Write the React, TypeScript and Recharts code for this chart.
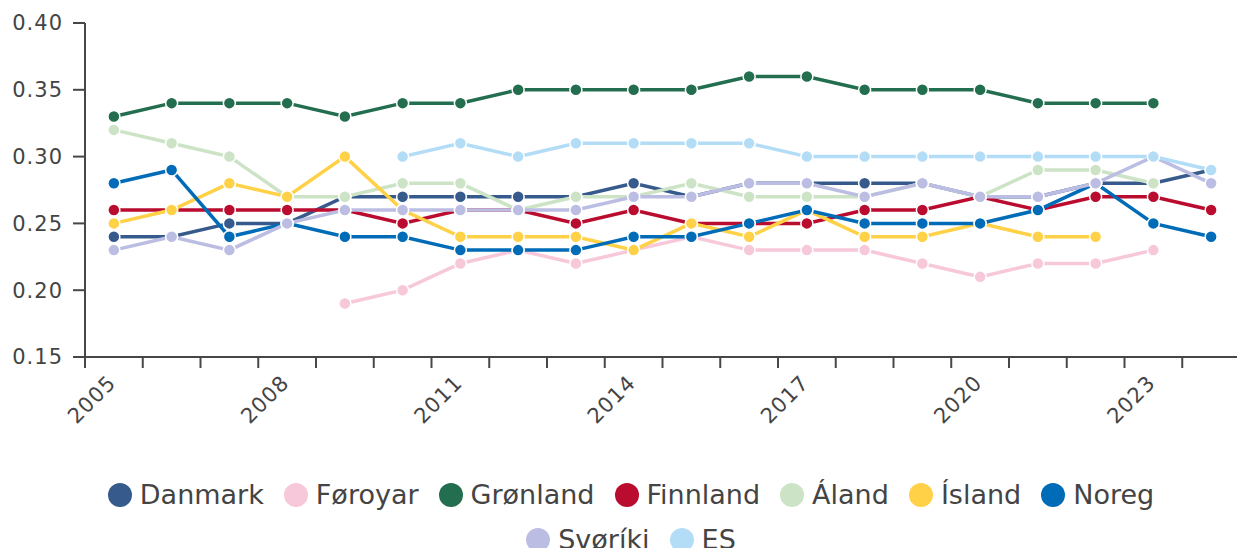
import React from "react";
import { LineChart, Line, XAxis, YAxis, Legend } from "recharts";

// Gini-style index per land, 2005-2024
const years = [
  "2005", "2006", "2007", "2008", "2009", "2010", "2011", "2012", "2013", "2014",
  "2015", "2016", "2017", "2018", "2019", "2020", "2021", "2022", "2023", "2024",
];

const danmark = [0.24, 0.24, 0.25, 0.25, 0.27, 0.27, 0.27, 0.27, 0.27, 0.28, 0.27, 0.28, 0.28, 0.28, 0.28, 0.27, 0.27, 0.28, 0.28, 0.29];
const foroyar = [null, null, null, null, 0.19, 0.2, 0.22, 0.23, 0.22, 0.23, 0.24, 0.23, 0.23, 0.23, 0.22, 0.21, 0.22, 0.22, 0.23, null];
const gronland = [0.33, 0.34, 0.34, 0.34, 0.33, 0.34, 0.34, 0.35, 0.35, 0.35, 0.35, 0.36, 0.36, 0.35, 0.35, 0.35, 0.34, 0.34, 0.34, null];
const finnland = [0.26, 0.26, 0.26, 0.26, 0.26, 0.25, 0.26, 0.26, 0.25, 0.26, 0.25, 0.25, 0.25, 0.26, 0.26, 0.27, 0.26, 0.27, 0.27, 0.26];
const aland = [0.32, 0.31, 0.3, 0.27, 0.27, 0.28, 0.28, 0.26, 0.27, 0.27, 0.28, 0.27, 0.27, 0.27, 0.28, 0.27, 0.29, 0.29, 0.28, null];
const island = [0.25, 0.26, 0.28, 0.27, 0.3, 0.26, 0.24, 0.24, 0.24, 0.23, 0.25, 0.24, 0.26, 0.24, 0.24, 0.25, 0.24, 0.24, null, null];
const noreg = [0.28, 0.29, 0.24, 0.25, 0.24, 0.24, 0.23, 0.23, 0.23, 0.24, 0.24, 0.25, 0.26, 0.25, 0.25, 0.25, 0.26, 0.28, 0.25, 0.24];
const sveriki = [0.23, 0.24, 0.23, 0.25, 0.26, 0.26, 0.26, 0.26, 0.26, 0.27, 0.27, 0.28, 0.28, 0.27, 0.28, 0.27, 0.27, 0.28, 0.3, 0.28];
const es = [null, null, null, null, null, 0.3, 0.31, 0.3, 0.31, 0.31, 0.31, 0.31, 0.3, 0.3, 0.3, 0.3, 0.3, 0.3, 0.3, 0.29];

const yTicks = [0.15, 0.2, 0.25, 0.3, 0.35, 0.4];

const series = [
  { key: "danmark", name: "Danmark", values: danmark, color: "#375a8c" },
  { key: "foroyar", name: "Føroyar", values: foroyar, color: "#f7c8da" },
  { key: "gronland", name: "Grønland", values: gronland, color: "#236e4f" },
  { key: "finnland", name: "Finnland", values: finnland, color: "#ba0c2f" },
  { key: "aland", name: "Áland", values: aland, color: "#cce3c6" },
  { key: "island", name: "Ísland", values: island, color: "#ffd147" },
  { key: "noreg", name: "Noreg", values: noreg, color: "#006bb6" },
  { key: "sveriki", name: "Svøríki", values: sveriki, color: "#bcbde3" },
  { key: "es", name: "ES", values: es, color: "#b3dcf6" },
];

const data = years.map((year, i) => {
  const row: Record<string, any> = { year };
  series.forEach((s) => {
    row[s.key] = s.values[i];
  });
  return row;
});

const FONT = "'DejaVu Sans', sans-serif";
const TEXT = "#444";
const AXIS = "#474747";

const CHART_W = 1240;
const CHART_H = 572;
const YAXIS_W = 85;

// ticks sit on band edges, labels on every third year at the band centre
function YearTick(props: any) {
  const { x, y, payload, index, width } = props;
  const plotW = width || CHART_W - YAXIS_W;
  const half = plotW / years.length / 2;
  const lx = x - 2;
  const ly = y + 22;
  return (
    <g>
      <line x1={x - half} y1={y} x2={x - half} y2={y + 11} stroke={AXIS} strokeWidth={2} />
      {index === years.length - 1 && (
        <line x1={x + half} y1={y} x2={x + half} y2={y + 11} stroke={AXIS} strokeWidth={2} />
      )}
      {index % 3 === 0 && (
        <text
          x={lx}
          y={ly}
          dy="0.35em"
          textAnchor="end"
          transform={`rotate(-45 ${lx} ${ly})`}
          fill={TEXT}
          fontSize={21}
          fontFamily={FONT}
          letterSpacing={1}
        >
          {payload.value}
        </text>
      )}
    </g>
  );
}

function LegendBox(props: any) {
  // keep the series order, not the alphabetical one
  const items = [...(props.payload || [])].sort(
    (a: any, b: any) =>
      series.findIndex((s) => s.name === a.value) - series.findIndex((s) => s.name === b.value)
  );
  return (
    <div
      style={{
        display: "flex",
        flexWrap: "wrap",
        justifyContent: "center",
        columnGap: 20,
        maxWidth: 1100,
        height: 90,
        margin: "0 auto",
        fontFamily: FONT,
        fontSize: 27,
        color: TEXT,
      }}
    >
      {items.map((it: any) => (
        <div key={it.value} style={{ display: "flex", alignItems: "center", height: 45 }}>
          <span
            style={{
              display: "inline-block",
              width: 24,
              height: 24,
              borderRadius: 12,
              background: it.color,
              marginRight: 8,
            }}
          />
          <span style={{ lineHeight: "45px" }}>{it.value}</span>
        </div>
      ))}
    </div>
  );
}

export default function App() {
  return (
    <div style={{ position: "absolute", left: 0, top: 0, width: 1237, height: 548, overflow: "hidden", background: "#fff" }}>
      <LineChart
        width={CHART_W}
        height={CHART_H}
        data={data}
        margin={{ top: 23, right: 0, left: 0, bottom: 10 }}
      >
        <XAxis
          dataKey="year"
          scale="band"
          interval={0}
          tickLine={false}
          tickSize={0}
          tickMargin={0}
          height={115}
          axisLine={{ stroke: AXIS, strokeWidth: 2 }}
          tick={<YearTick />}
        />
        <YAxis
          width={YAXIS_W}
          domain={[0.15, 0.4]}
          ticks={yTicks}
          tickFormatter={(v: number) => v.toFixed(2)}
          axisLine={{ stroke: AXIS, strokeWidth: 2 }}
          tickLine={{ stroke: AXIS, strokeWidth: 2 }}
          tickSize={12}
          tickMargin={10}
          tick={{ fill: TEXT, fontSize: 21, fontFamily: FONT, letterSpacing: 1 }}
        />
        <Legend
          verticalAlign="bottom"
          content={<LegendBox />}
          wrapperStyle={{ left: 0, width: 1262, height: 90 }}
        />
        {series.map((s) => (
          <Line
            key={s.key}
            dataKey={s.key}
            name={s.name}
            stroke={s.color}
            strokeWidth={3.5}
            dot={{ r: 6, fill: s.color, stroke: "#fff", strokeWidth: 1.5 }}
            activeDot={false}
            isAnimationActive={false}
          />
        ))}
      </LineChart>
    </div>
  );
}
